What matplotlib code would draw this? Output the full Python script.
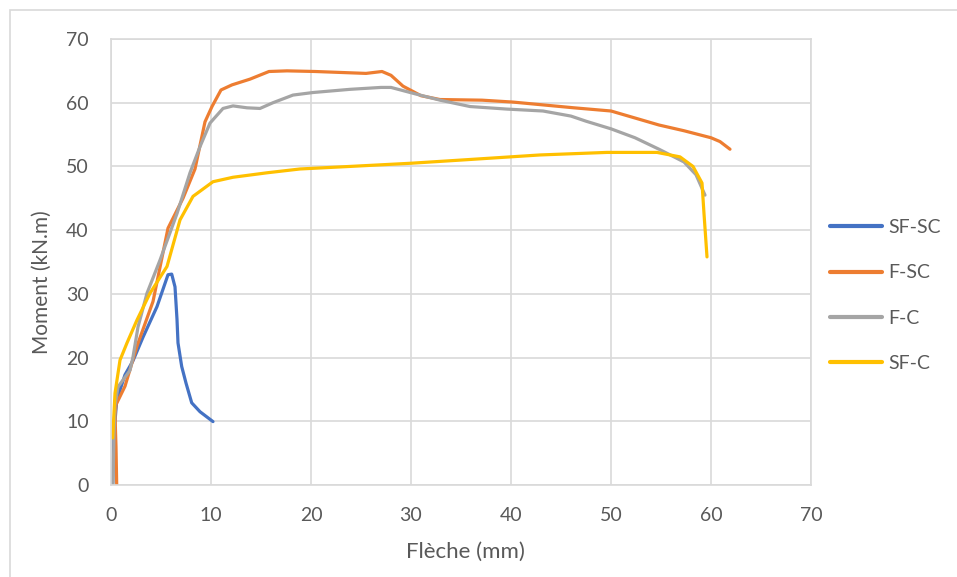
import matplotlib
matplotlib.use("Agg")
import matplotlib.pyplot as plt
from matplotlib.patches import Rectangle

# data (fleche in mm, moment in kN.m)
sf_sc_x = [0.17, 0.3, 0.57, 1.4, 2.2, 3.2, 4.6, 5.7, 6.07, 6.4, 6.6, 6.7, 7.07, 7.5, 8.07, 8.9, 10.2]
sf_sc_y = [0.3, 8.0, 13.3, 17.3, 19.5, 23.2, 28.0, 33.0, 33.1, 31.1, 26.0, 22.3, 18.6, 16.0, 12.9, 11.5, 9.95]

f_sc_x = [0.57, 0.5, 0.4, 0.5, 1.4, 2.6, 4.2, 5.7, 7.2, 8.4, 9.4, 10.1, 11.0, 12.1, 13.9,
          15.8, 17.6, 20.4, 25.5, 27.1, 28.0, 29.2, 31.0, 32.9, 37.1, 40.2, 46.3, 50.0,
          52.4, 54.8, 57.3, 60.0, 60.9, 61.9]
f_sc_y = [0.0, 6.0, 11.0, 12.6, 15.5, 21.8, 28.8, 40.3, 45.0, 49.6, 57.0, 59.4, 62.0, 62.8, 63.7,
          64.9, 65.0, 64.9, 64.6, 64.9, 64.3, 62.6, 61.1, 60.5, 60.4, 60.1, 59.2, 58.7,
          57.6, 56.5, 55.6, 54.5, 53.9, 52.7]

f_c_x = [0.2, 0.3, 0.4, 0.7, 1.9, 2.2, 2.7, 3.6, 4.9, 6.6, 7.9, 8.9, 9.9, 11.2, 12.2, 13.6,
         14.9, 16.2, 18.2, 20.2, 23.9, 27.0, 28.0, 30.4, 32.9, 35.9, 39.6, 43.2, 46.0,
         47.5, 50.0, 52.4, 54.8, 57.3, 58.5, 59.4]
f_c_y = [0.0, 8.0, 12.5, 15.4, 18.0, 20.1, 24.8, 30.1, 35.3, 42.6, 49.0, 53.1, 56.8, 59.1, 59.5, 59.2,
         59.1, 60.0, 61.2, 61.6, 62.1, 62.4, 62.4, 61.4, 60.4, 59.4, 59.0, 58.7, 57.9,
         57.1, 55.9, 54.5, 52.7, 50.7, 48.7, 45.5]

sf_c_x = [0.17, 0.4, 0.9, 1.6, 2.6, 3.9, 5.6, 6.9, 8.2, 10.2, 12.2, 15.6, 18.9, 23.9, 30.0,
          35.0, 42.9, 49.6, 54.6, 56.9, 58.2, 59.1, 59.3, 59.6]
sf_c_y = [7.4, 14.4, 19.6, 22.3, 25.9, 30.1, 34.3, 41.6, 45.3, 47.6, 48.3, 49.0, 49.6, 50.0, 50.5,
          51.0, 51.8, 52.2, 52.2, 51.5, 50.0, 47.4, 42.6, 35.8]

series = [
    ("SF-SC", sf_sc_x, sf_sc_y, "#4472C4"),
    ("F-SC", f_sc_x, f_sc_y, "#ED7D31"),
    ("F-C", f_c_x, f_c_y, "#A5A5A5"),
    ("SF-C", sf_c_x, sf_c_y, "#FFC000"),
]

plt.rcParams['font.family'] = ['Lato', 'DejaVu Sans']

fig = plt.figure(figsize=(9.57, 5.77), dpi=100)
ax = fig.add_axes([111 / 957, 1 - 485 / 577, 700 / 957, 446 / 577])

for name, xs, ys, col in series:
    ax.plot(xs, ys, color=col, lw=2.3, label=name, solid_capstyle='round', solid_joinstyle='round')

ax.set_xlim(0, 70)
ax.set_ylim(0, 70)
ax.set_xticks(range(0, 71, 10))
ax.set_yticks(range(0, 71, 10))
ax.grid(True, color="#D9D9D9", lw=1.2)
ax.set_axisbelow(True)
for s in ax.spines.values():
    s.set_color("#D9D9D9")
    s.set_linewidth(1.2)
ax.tick_params(length=0, labelsize=14, colors="#595959")
ax.tick_params(axis='y', pad=16)
ax.tick_params(axis='x', pad=16)

ax.set_xlabel("Flèche (mm)", fontsize=16, color="#595959")
ax.set_ylabel("Moment (kN.m)", fontsize=15, color="#595959")
ax.xaxis.set_label_coords(0.507, -0.150)
ax.yaxis.set_label_coords(-0.0986, 0.455)
ax.xaxis.label.set_va('center')
ax.yaxis.label.set_va('center')

leg = ax.legend(loc="center left", bbox_to_anchor=(1.027, 0.425), frameon=False,
                fontsize=14, labelcolor="#595959", handlelength=2.7,
                labelspacing=1.45, handletextpad=0.3, borderpad=0, borderaxespad=0)
for h in leg.get_lines():
    h.set_linewidth(3)

# chart area border
fig.patches.append(Rectangle((10 / 957, -0.1), 1.2, 1 - 10 / 577 + 0.1,
                             transform=fig.transFigure, fill=False,
                             edgecolor="#D9D9D9", lw=1.2))

fig.savefig("out.png", dpi=100)
